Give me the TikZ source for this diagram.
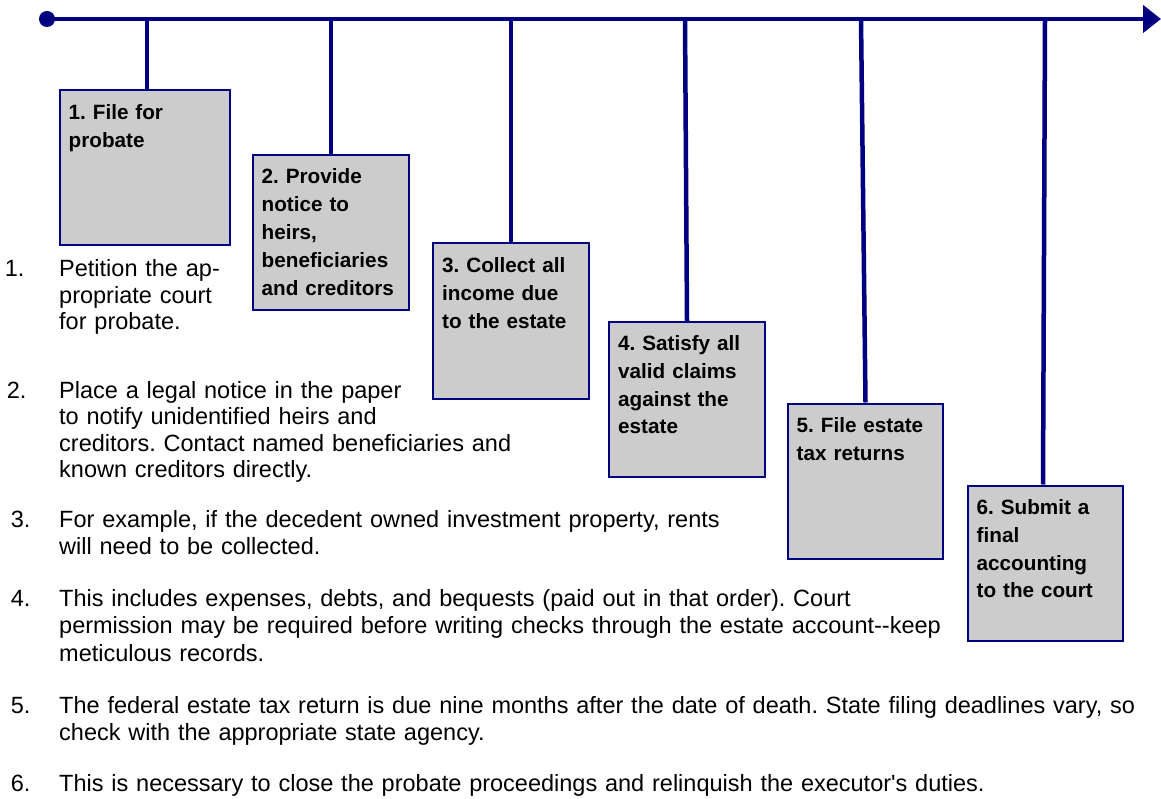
\documentclass[tikz,border=0pt]{standalone}
\usepackage{fontspec}
\setmainfont{Liberation Sans}[Ligatures=TeXOff]
\usetikzlibrary{arrows.meta}
\definecolor{navy}{RGB}{0,0,128}
\definecolor{boxgray}{RGB}{204,204,204}
\frenchspacing
\begin{document}
\begin{tikzpicture}[x=1pt,y=-1pt,
  axis/.style={draw=navy,line width=4.5pt},
  stem/.style={draw=navy,line width=4.5pt},
  stepbox/.style={draw=navy,fill=boxgray,line width=2pt,inner sep=0pt,minimum height=155pt,minimum width=156pt},
  boxtext/.style={anchor=base west,inner sep=0pt,text width=145pt,align=left,font=\fontsize{20.7}{27.8}\selectfont\bfseries\frenchspacing},
  num/.style={anchor=base west,inner sep=0pt,font=\fontsize{23.5}{27.5}\selectfont},
  notea/.style={anchor=base west,inner sep=0pt,text width=1100pt,align=left,font=\fontsize{23.5}{26.5}\selectfont\frenchspacing},
  noteb/.style={anchor=base west,inner sep=0pt,text width=1100pt,align=left,font=\fontsize{23.5}{27.5}\selectfont\frenchspacing}]
\useasboundingbox (0,0) rectangle (1161,799);

% timeline
\node[circle,fill=navy,minimum size=16pt,inner sep=0pt] (dot) at (47,19) {};
\coordinate (tip) at (1161,19);
\coordinate (k1) at (147,19);
\coordinate (k2) at (331,19);
\coordinate (k3) at (511,19);
\coordinate (k4) at (685,19);
\coordinate (k5) at (861,19);
\coordinate (k6) at (1045,19);

% box positions
\path (145,168) node[stepbox,minimum width=170pt] (b1) {};
\path (331,232.5) node[stepbox] (b2) {};
\path (511,321) node[stepbox] (b3) {};
\path (687,399.5) node[stepbox] (b4) {};
\path (865.5,481) node[stepbox,minimum width=155pt] (b5) {};
\path (1045.5,563) node[stepbox,minimum width=155pt] (b6) {};

% stems
\draw[stem] (k1) -- (k1 |- b1.north);
\draw[stem] (k2) -- (k2 |- b2.north);
\draw[stem] (k3) -- (k3 |- b3.north);
\draw[stem] (k4) -- (b4.north);
\draw[stem] (k5) -- (b5.north);
\draw[stem] (k6) -- ([xshift=-2.5pt]b6.north);

% boxes drawn over the stem ends
\path (145,168) node[stepbox,minimum width=170pt] (c1) {};
\path (331,232.5) node[stepbox] (c2) {};
\path (511,321) node[stepbox] (c3) {};
\path (687,399.5) node[stepbox] (c4) {};
\path (865.5,481) node[stepbox,minimum width=155pt] (c5) {};
\path (1045.5,563) node[stepbox,minimum width=155pt] (c6) {};

\draw[axis,-{Triangle[length=18pt,width=27pt]}] (dot.center) -- (tip);

% box texts
\node[boxtext] (t1) at (68.5,119.5) {1. File for\\probate};
\node[boxtext] (t2) at (261.5,184) {2. Provide\\notice to\\heirs,\\beneficiaries\\and creditors};
\node[boxtext] (t3) at (442,272.5) {3. Collect all\\income due\\to the estate};
\node[boxtext] (t4) at (618,350.5) {4. Satisfy all\\valid claims\\against the\\estate};
\node[boxtext] (t5) at (796.5,432.5) {5. File estate\\tax returns};
\node[boxtext] (t6) at (976.5,514.5) {6. Submit a\\final\\accounting\\to the court};

% notes
\node[num] (n1) at (4.7,277) {1.};
\node[notea] (i1) at (59,277) {Petition the ap-\\propriate court\\for probate.};
\node[num] (n2) at (6.6,398) {2.};
\node[notea] (i2) at (59,398) {Place a legal notice in the paper\\to notify unidentified heirs and\\creditors. Contact named beneficiaries and\\known creditors directly.};
\node[num] (n3) at (10.7,527) {3.};
\node[noteb] (i3) at (59,527) {For example, if the decedent owned investment property, rents\\will need to be collected.};
\node[num] (n4) at (10.7,606) {4.};
\node[noteb] (i4) at (59,606) {This includes expenses, debts, and bequests (paid out in that order). Court\\permission may be required before writing checks through the estate account--keep\\meticulous records.};
\node[num] (n5) at (10.7,713) {5.};
\node[noteb] (i5) at (59,713) {The federal estate tax return is due nine months after the date of death. State filing deadlines vary, so\\check with the appropriate state agency.};
\node[num] (n6) at (10.7,791) {6.};
\node[noteb] (i6) at (59,791) {This is necessary to close the probate proceedings and relinquish the executor's duties.};
\end{tikzpicture}
\end{document}
